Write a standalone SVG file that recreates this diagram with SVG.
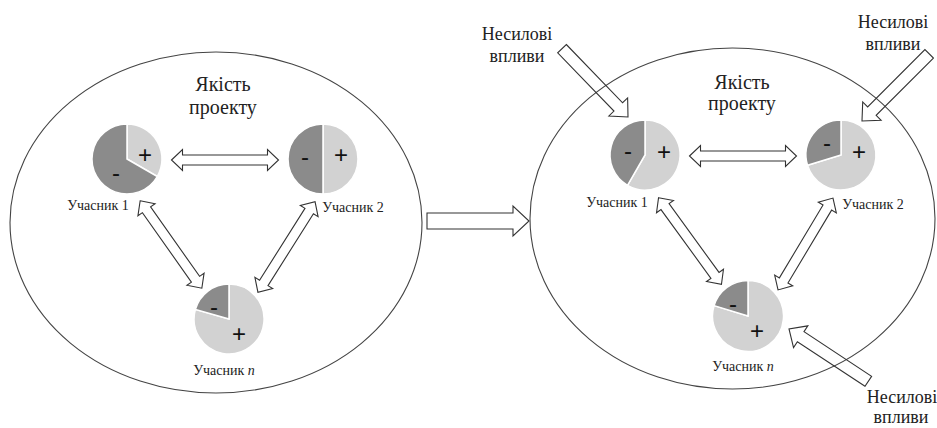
<svg xmlns="http://www.w3.org/2000/svg" xmlns:xlink="http://www.w3.org/1999/xlink" width="937" height="428" viewBox="0 0 937 428">
<style>
.ell{fill:none;stroke:#444;stroke-width:1.1}
.dk{fill:#8b8b8b;stroke:#fff;stroke-width:1.5}
.lt{fill:#d2d2d2;stroke:#fff;stroke-width:1.5}
.sg{font-family:"Liberation Sans",Arial,sans-serif;font-size:24px;fill:#111;text-anchor:middle}
.lb{font-family:"Liberation Serif","Times New Roman",serif;font-size:14px;fill:#222;text-anchor:middle}
.tt{font-family:"Liberation Serif","Times New Roman",serif;font-size:20px;fill:#222;text-anchor:middle}
.nf{font-family:"Liberation Serif","Times New Roman",serif;font-size:18px;fill:#222;text-anchor:middle}
.ar{fill:#fff;stroke:#333;stroke-width:1.1;stroke-linejoin:miter}
.ai{fill:none;stroke:#333;stroke-width:1.1;stroke-linejoin:miter}
</style>
<defs>
<path id="dbl" d="M-53.5,0 L-42.5,-10.5 L-42.5,-5 L42.5,-5 L42.5,-10.5 L53.5,0 L42.5,10.5 L42.5,5 L-42.5,5 L-42.5,10.5 Z"/>
<path id="sgl" d="M-95,-6 L-14,-6 L-14,-13 L0,0 L-14,13 L-14,6 L-95,6 Z"/>
</defs>
<rect width="937" height="428" fill="#fff"/>

<g id="state-before">
<ellipse class="ell" cx="216" cy="222.5" rx="206" ry="170.5"/>
<text class="tt" x="223" y="91">Якість</text>
<text class="tt" x="223" y="114">проекту</text>
</g>
<g id="state-after">
<ellipse class="ell" cx="732.5" cy="218.5" rx="202.5" ry="170.5"/>
<text class="tt" x="742" y="89">Якість</text>
<text class="tt" x="742" y="110">проекту</text>
</g>

<g id="connectors">
<use href="#dbl" class="ar" transform="translate(225,160)"/>
<use href="#dbl" class="ar" transform="translate(171,244.5) rotate(54.8)"/>
<use href="#dbl" class="ar" transform="translate(286.5,247) rotate(122.3)"/>
<path class="ar" d="M427,213 L513,213 L513,206 L529,221 L513,236 L513,229 L427,229 Z"/>
<use href="#dbl" class="ar" transform="translate(743,156)"/>
<use href="#dbl" class="ar" transform="translate(690,241) rotate(54)"/>
<use href="#dbl" class="ar" transform="translate(805.5,244) rotate(120.9)"/>
<use href="#sgl" class="ai" transform="translate(628,117) rotate(46)"/>
<use href="#sgl" class="ai" transform="translate(862,121) rotate(135)"/>
<use href="#sgl" class="ai" transform="translate(789,329) rotate(213.4)"/>
</g>

<g id="b-participant-1">
<path class="lt" d="M127,159 L127,124 A35,35 0 0 1 157.3,176.5 Z"/>
<path class="dk" d="M127,159 L157.3,176.5 A35,35 0 1 1 127,124 Z"/>
<text class="sg" x="145" y="163">+</text>
<text class="sg" x="116" y="181">-</text>
<text class="lb" x="98" y="210">Учасник 1</text>
</g>
<g id="b-participant-2">
<path class="lt" d="M323,159 L323,124 A35,35 0 0 1 323,194 Z"/>
<path class="dk" d="M323,159 L323,194 A35,35 0 0 1 323,124 Z"/>
<text class="sg" x="341" y="163">+</text>
<text class="sg" x="305" y="165">-</text>
<text class="lb" x="353" y="212">Учасник 2</text>
</g>
<g id="b-participant-n">
<path class="lt" d="M229,319 L229,284 A35,35 0 1 1 195.4,309.4 Z"/>
<path class="dk" d="M229,319 L195.4,309.4 A35,35 0 0 1 229,284 Z"/>
<text class="sg" x="239" y="342">+</text>
<text class="sg" x="214" y="315">-</text>
<text class="lb" x="224" y="375">Учасник <tspan font-style="italic">n</tspan></text>
</g>

<g id="a-participant-1">
<path class="lt" d="M645,155 L645,120 A35,35 0 1 1 627.5,185.3 Z"/>
<path class="dk" d="M645,155 L627.5,185.3 A35,35 0 0 1 645,120 Z"/>
<text class="sg" x="664" y="160">+</text>
<text class="sg" x="628" y="159">-</text>
<text class="lb" x="617" y="207">Учасник 1</text>
</g>
<g id="a-participant-2">
<path class="lt" d="M841,155 L841,120 A35,35 0 1 1 807.5,165.2 Z"/>
<path class="dk" d="M841,155 L807.5,165.2 A35,35 0 0 1 841,120 Z"/>
<text class="sg" x="859" y="160">+</text>
<text class="sg" x="827" y="151">-</text>
<text class="lb" x="873" y="209">Учасник 2</text>
</g>
<g id="a-participant-n">
<path class="lt" d="M748,316 L748,280.5 A35.5,35.5 0 1 1 714.1,305.6 Z"/>
<path class="dk" d="M748,316 L714.1,305.6 A35.5,35.5 0 0 1 748,280.5 Z"/>
<text class="sg" x="757" y="339">+</text>
<text class="sg" x="733" y="312">-</text>
<text class="lb" x="743" y="371">Учасник <tspan font-style="italic">n</tspan></text>
</g>

<g id="influence-1">
<text class="nf" x="517" y="40">Несилові</text>
<text class="nf" x="517" y="62">впливи</text>
</g>
<g id="influence-2">
<text class="nf" x="893" y="28">Несилові</text>
<text class="nf" x="893" y="50">впливи</text>
</g>
<g id="influence-3">
<text class="nf" x="902" y="403">Несилові</text>
<text class="nf" x="901" y="423">впливи</text>
</g>
</svg>
